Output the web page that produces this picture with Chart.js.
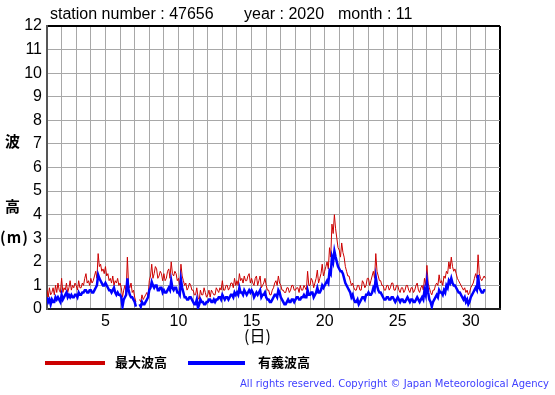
<!DOCTYPE html>
<html>
<head>
<meta charset="utf-8">
<script src="https://cdn.jsdelivr.net/npm/chart.js@4"></script>
<style>
body { margin: 0; background: #fff; }
#wrap { position: relative; width: 555px; height: 395px; font-family: "Liberation Sans", Arial, sans-serif; }
#graph { position: absolute; left: 0; top: 0; }
.t { position: absolute; white-space: nowrap; color: #000; line-height: 1; }
.jp { font-family: "Noto Sans CJK JP", sans-serif; font-weight: bold; }
.key { position: absolute; height: 4px; }
</style>
</head>
<body>
<div id="wrap">
  <canvas id="graph" width="555" height="395"></canvas>
  <div class="t" style="left:50px;top:6px;font-size:16px">station number : 47656</div>
  <div class="t" style="left:244px;top:6px;font-size:16px">year : 2020</div>
  <div class="t" style="left:338px;top:6px;font-size:16px">month : 11</div>
  <div class="t jp" style="left:5px;top:133px;font-size:15px">波</div>
  <div class="t jp" style="left:5px;top:198px;font-size:15px">高</div>
  <div class="t jp" style="left:0px;top:229px;font-size:15px;letter-spacing:1px">(m)</div>
  <div class="t jp" style="left:244px;top:327px;font-size:16px;font-weight:normal">(日)</div>
  <div class="key" style="left:45px;top:361px;width:60px;background:#cc0000"></div>
  <div class="t jp" style="left:115px;top:355px;font-size:13px">最大波高</div>
  <div class="key" style="left:188px;top:361px;width:57px;background:#0000ff"></div>
  <div class="t jp" style="left:258px;top:355px;font-size:13px">有義波高</div>
  <div class="t" id="copy" style="left:240px;top:379px;font-size:10px;color:#4040ff;font-family:'DejaVu Sans',Verdana,sans-serif">All rights reserved. Copyright © Japan Meteorological Agency</div>
</div>
<script>
// November 2020, station 47656, one value every 2 hours (12 per day)
const startDay = 1;
const stepsPerDay = 12;

// 最大波高 (m)
const maxWave = [
  0.8, 0.5, 0.9, 0.6, 0.7, 0.9, 0.6, 1.0, 0.7, 1.1, 0.8, 0.7,
  1.3, 0.7, 0.9, 0.8, 1.1, 0.7, 0.9, 1.2, 0.8, 1.0, 0.9, 1.1,
  1.0, 0.8, 1.2, 0.9, 0.9, 1.1, 1.0, 1.3, 1.5, 1.1, 1.2, 1.0,
  1.3, 1.1, 1.2, 1.4, 1.6, 1.3, 2.35, 1.8, 1.9, 1.6, 1.7, 1.5,
  1.8, 1.4, 1.5, 1.2, 1.3, 1.1, 1.4, 1.0, 1.2, 1.1, 1.3, 1.0,
  1.1, 0.9, 0.5, 0.8, 1.0, 0.7, 2.2, 1.0, 0.9, 1.1, 0.7, 0.8,
  0.5, 0.3, null, null, 0.4, 0.3, 0.6, 0.4, 0.5, 0.6, 0.7, 0.5,
  1.2, 1.4, 1.9, 1.3, 1.5, 1.8, 1.7, 1.3, 1.4, 1.6, 1.5, 1.2,
  1.5, 1.2, 1.3, 1.6, 1.7, 1.3, 2.0, 1.5, 1.4, 1.6, 1.5, 1.2,
  1.3, 1.0, 1.9, 1.4, 1.2, 1.0, 1.1, 0.8, 0.9, 1.1, 1.0, 0.8,
  0.8, 0.6, 0.6, 0.9, 0.5, 0.4, 0.8, 0.6, 0.6, 0.9, 0.7, 0.5,
  0.6, 0.8, 0.5, 0.8, 0.7, 0.6, 0.6, 0.9, 0.8, 0.7, 0.9, 0.8,
  1.2, 0.8, 0.8, 1.0, 1.0, 0.8, 0.9, 1.1, 1.1, 0.9, 1.3, 1.0,
  1.2, 1.0, 1.5, 1.2, 1.3, 1.1, 1.4, 1.2, 1.2, 1.4, 1.5, 1.1,
  1.3, 1.1, 1.0, 1.3, 1.4, 1.0, 1.2, 1.4, 0.9, 1.0, 1.1, 1.3,
  1.0, 0.8, 0.8, 0.6, 0.6, 0.8, 0.9, 1.1, 1.2, 1.0, 1.4, 1.1,
  1.0, 0.8, 0.8, 0.7, 0.7, 0.9, 0.9, 0.7, 0.8, 1.0, 1.0, 0.8,
  0.8, 0.9, 0.9, 0.7, 1.0, 0.8, 0.8, 1.0, 0.9, 0.8, 1.6, 1.0,
  1.0, 1.3, 1.2, 0.9, 1.1, 1.3, 1.65, 1.1, 1.3, 1.5, 1.9, 1.4,
  1.6, 1.8, 2.0, 1.7, 2.6, 2.2, 3.6, 3.2, 4.0, 3.4, 3.0, 2.6,
  2.5, 2.2, 2.8, 2.4, 2.2, 1.8, 1.6, 1.4, 1.4, 1.2, 1.0, 1.1,
  0.9, 0.8, 0.8, 1.0, 1.0, 0.8, 0.8, 1.2, 1.1, 0.9, 1.0, 1.3,
  1.3, 1.0, 1.2, 1.4, 1.6, 1.3, 2.35, 1.6, 1.4, 1.2, 1.2, 1.0,
  1.0, 0.8, 0.8, 1.0, 1.0, 0.8, 0.9, 1.1, 1.1, 0.8, 0.8, 1.0,
  1.0, 0.8, 0.7, 0.9, 0.9, 0.7, 0.8, 1.0, 1.0, 0.8, 0.7, 0.9,
  0.9, 0.7, 0.8, 1.0, 1.1, 0.8, 0.7, 0.9, 1.0, 0.8, 1.3, 1.0,
  1.85, 1.1, 0.9, 0.7, 0.6, 0.8, 0.8, 1.0, 1.1, 1.0, 1.45, 1.1,
  1.2, 1.0, 1.4, 1.3, 1.6, 1.5, 2.0, 1.7, 2.2, 1.8, 1.6, 1.7,
  1.5, 1.3, 1.2, 1.1, 1.0, 0.9, 0.8, 0.9, 0.7, 0.8, 0.6, 0.7,
  0.9, 1.0, 1.1, 1.3, 1.5, 1.3, 2.3, 1.5, 1.3, 1.2, 1.3, 1.4,
  1.3
];

// 有義波高 (m)
const sigWave = [
  0.5, 0.3, 0.4, 0.2, 0.4, 0.3, 0.3, 0.5, 0.4, 0.5, 0.4, 0.3,
  0.6, 0.4, 0.5, 0.6, 0.7, 0.5, 0.6, 0.5, 0.6, 0.5, 0.5, 0.6,
  0.6, 0.5, 0.7, 0.6, 0.6, 0.7, 0.7, 0.8, 0.8, 0.7, 0.7, 0.8,
  0.8, 0.7, 0.7, 0.8, 0.9, 1.0, 1.45, 1.3, 1.2, 1.1, 1.0, 1.0,
  1.1, 1.0, 0.9, 0.8, 0.8, 0.7, 0.8, 0.9, 0.7, 0.6, 0.7, 0.6,
  0.6, 0.5, 0.1, 0.4, 0.5, 0.6, 1.3, 0.8, 0.6, 0.5, 0.5, 0.4,
  0.3, 0.1, null, null, 0.2, 0.1, 0.3, 0.2, 0.2, 0.3, 0.4, 0.5,
  0.8, 0.9, 1.15, 1.0, 0.9, 1.0, 1.0, 0.8, 0.8, 0.9, 0.9, 0.7,
  0.8, 0.7, 0.7, 0.8, 0.9, 0.8, 1.2, 0.9, 0.8, 0.9, 0.9, 0.7,
  0.7, 0.6, 1.25, 0.9, 0.7, 0.5, 0.5, 0.4, 0.4, 0.5, 0.5, 0.4,
  0.3, 0.2, 0.2, 0.4, 0.05, 0.2, 0.4, 0.3, 0.3, 0.2, 0.2, 0.3,
  0.3, 0.4, 0.4, 0.3, 0.3, 0.4, 0.3, 0.4, 0.4, 0.5, 0.5, 0.4,
  0.6, 0.5, 0.4, 0.5, 0.5, 0.4, 0.5, 0.6, 0.6, 0.5, 0.7, 0.6,
  0.7, 0.6, 0.9, 0.7, 0.7, 0.6, 0.8, 0.7, 0.6, 0.7, 0.8, 0.7,
  0.8, 0.7, 0.5, 0.6, 0.7, 0.6, 0.7, 0.8, 0.5, 0.6, 0.6, 0.7,
  0.5, 0.4, 0.4, 0.3, 0.3, 0.4, 0.5, 0.6, 0.6, 0.5, 0.8, 0.7,
  0.5, 0.4, 0.3, 0.2, 0.2, 0.3, 0.4, 0.3, 0.3, 0.4, 0.4, 0.3,
  0.4, 0.5, 0.5, 0.4, 0.4, 0.5, 0.5, 0.6, 0.5, 0.5, 0.8, 0.6,
  0.6, 0.7, 0.7, 0.5, 0.6, 0.7, 0.9, 0.7, 0.7, 0.8, 1.0, 0.9,
  1.0, 1.1, 1.2, 1.1, 1.6, 1.5, 2.2, 2.0, 2.45, 2.2, 2.0, 1.8,
  1.7, 1.6, 1.6, 1.5, 1.3, 1.1, 1.0, 0.9, 0.8, 0.7, 0.5, 0.6,
  0.4, 0.3, 0.3, 0.4, 0.2, 0.3, 0.4, 0.5, 0.5, 0.4, 0.6, 0.6,
  0.7, 0.6, 0.6, 0.7, 0.9, 0.8, 1.35, 1.0, 0.8, 0.7, 0.7, 0.6,
  0.5, 0.4, 0.4, 0.5, 0.5, 0.4, 0.4, 0.5, 0.5, 0.4, 0.3, 0.4,
  0.5, 0.4, 0.3, 0.4, 0.4, 0.3, 0.3, 0.4, 0.5, 0.4, 0.3, 0.4,
  0.4, 0.3, 0.3, 0.4, 0.5, 0.4, 0.3, 0.4, 0.5, 0.4, 0.8, 0.6,
  1.15, 0.7, 0.4, 0.3, 0.1, 0.3, 0.4, 0.5, 0.6, 0.5, 0.8, 0.7,
  0.7, 0.6, 0.8, 0.7, 1.0, 0.9, 1.2, 1.1, 1.3, 1.1, 1.0, 1.0,
  0.9, 0.8, 0.7, 0.7, 0.6, 0.5, 0.4, 0.5, 0.3, 0.4, 0.2, 0.3,
  0.5, 0.6, 0.7, 0.8, 0.9, 0.8, 1.45, 0.9, 0.8, 0.7, 0.7, 0.8,
  0.8
];

const dayTicks = [5, 10, 15, 20, 25, 30];

function toPoints(values) {
  return values.map((v, i) => ({ x: startDay + i / stepsPerDay, y: v }));
}

// stretch the copyright line to the width it has in the original
const copy = document.getElementById("copy");
const copyText = copy.textContent;
const spare = 309 - copy.getBoundingClientRect().width;
copy.style.letterSpacing = (spare / copyText.length) + "px";

const ctx = document.getElementById("graph").getContext("2d");

let chart = new Chart(ctx, {
  type: 'line',
  data: {
    datasets: [{
      label: '有義波高',
      data: toPoints(sigWave),
      borderColor: '#0000ff',
      borderWidth: 2.5,
      pointRadius: 0,
      tension: 0,
      spanGaps: false,
      order: 0
    },
    {
      label: '最大波高',
      data: toPoints(maxWave),
      borderColor: '#cc0000',
      borderWidth: 1,
      pointRadius: 0,
      tension: 0,
      spanGaps: false,
      order: 1
    }]
  },
  options: {
    responsive: false,
    animation: false,
    layout: { padding: { top: 26, right: 55, left: 0, bottom: 0 } },
    plugins: {
      legend: { display: false },
      tooltip: { enabled: false }
    },
    scales: {
      x: {
        type: 'linear',
        min: 1,
        max: 32,
        afterFit: scale => { scale.height = 86; },
        afterBuildTicks: scale => {
          scale.ticks = [];
          for (let d = 1; d <= 32; d++) scale.ticks.push({ value: d });
        },
        ticks: {
          autoSkip: false,
          maxRotation: 0,
          padding: 3,
          color: '#000',
          font: { family: 'Liberation Sans', size: 16 },
          callback: v => dayTicks.includes(v) ? v : ''
        },
        grid: {
          drawTicks: false,
          color: c => c.tick && c.tick.value === 32 ? '#000' : '#a8a8a8',
          lineWidth: c => c.tick && c.tick.value === 32 ? 2 : 1
        },
        border: { color: '#222', width: 2 }
      },
      y: {
        min: 0,
        max: 12,
        afterFit: scale => { scale.width = 47; },
        ticks: {
          stepSize: 1,
          padding: 5,
          color: '#000',
          font: { family: 'Liberation Sans', size: 16 }
        },
        grid: {
          drawTicks: false,
          color: c => c.tick && c.tick.value === 12 ? '#000' : '#a8a8a8',
          lineWidth: c => c.tick && c.tick.value === 12 ? 2 : 1
        },
        border: { color: '#555', width: 2 }
      }
    }
  }
});
</script>
</body>
</html>
